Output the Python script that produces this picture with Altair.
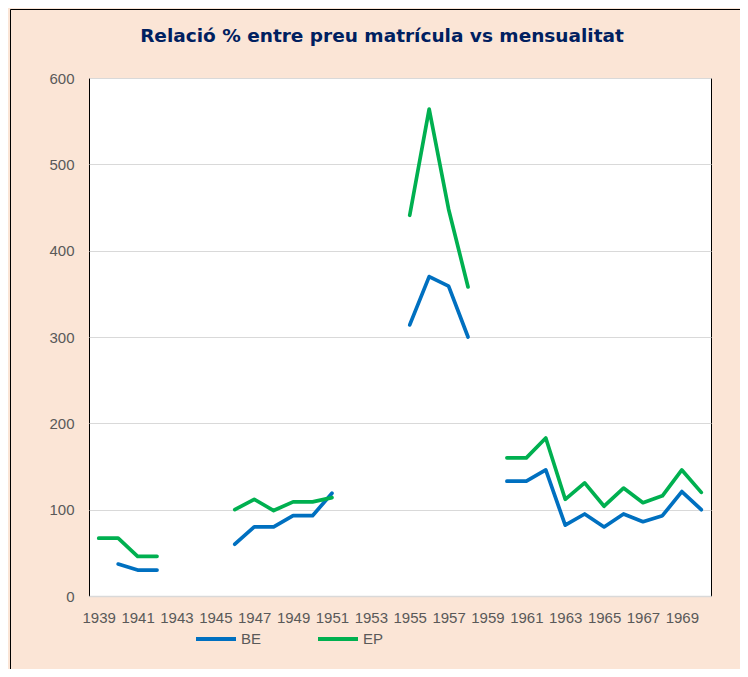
import altair as alt
import pandas as pd

# ---- data ----
years = list(range(1939, 1971))
be_values = [None, 37, 30, 30, None, None, None, 60, 80, 80, 93, 93, 119, None, None, None,
             314, 370, 359, 300, None, 133, 133, 146, 82, 95, 80, 95, 86, 93, 121, 100]
ep_values = [67, 67, 46, 46, None, None, None, 100, 112, 99, 109, 109, 114, None, None, None,
             441, 564, 448, 358, None, 160, 160, 183, 112, 131, 104, 125, 108, 116, 146, 120]
series_names = ["BE", "EP"]
series_colors = ["#0070C0", "#00B050"]
x_tick_years = [y for y in years if y % 2 == 1]
y_ticks = [0, 100, 200, 300, 400, 500, 600]
title_text = "Relació % entre preu matrícula vs mensualitat"

# ---- build long table, one segment per unbroken run ----
rows = []
for name, vals in zip(series_names, [be_values, ep_values]):
    seg = 0
    prev_none = True
    for yr, v in zip(years, vals):
        if v is None:
            prev_none = True
            continue
        if prev_none:
            seg += 1
            prev_none = False
        rows.append({"year": yr, "value": v, "series": name, "seg": f"{name}-{seg}"})
df = pd.DataFrame(rows)

axis_font = "Liberation Sans"
label_color = "#595959"
grid_color = "#D9D9D9"
bg = "#FBE5D6"

lines = alt.Chart(df).mark_line(strokeWidth=3.7, strokeCap="round", strokeJoin="round").encode(
    x=alt.X("year:O", scale=alt.Scale(domain=years),
            axis=alt.Axis(values=x_tick_years, labelAngle=0, ticks=False, tickSize=0,
                          labelPadding=14, labelFont=axis_font, labelFontSize=15,
                          labelColor=label_color, domainColor=grid_color, domainWidth=1.5,
                          grid=False, labelOverlap=False, title=None)),
    y=alt.Y("value:Q", scale=alt.Scale(domain=[0, 600], nice=False),
            axis=alt.Axis(values=y_ticks, ticks=False, tickSize=0, domain=False,
                          labelPadding=15, labelFont=axis_font, labelFontSize=15,
                          labelColor=label_color, gridColor=grid_color, gridWidth=1,
                          title=None)),
    color=alt.Color("series:N", scale=alt.Scale(domain=series_names, range=series_colors),
                    legend=alt.Legend(orient="none", legendX=105, legendY=539,
                                      direction="horizontal", title=None,
                                      symbolType="stroke", symbolSize=1600,
                                      symbolStrokeWidth=4, labelFont=axis_font,
                                      labelFontSize=15, labelColor=label_color,
                                      labelOffset=3, columnPadding=48, padding=0)),
    detail="seg:N",
)

frame_df = pd.DataFrame({"k": [0]})
left_border = alt.Chart(frame_df).mark_rule(color="black", strokeWidth=1).encode(
    x=alt.value(-78.5), y=alt.value(-68.5), y2=alt.value(600))
top_border = alt.Chart(frame_df).mark_rule(color="black", strokeWidth=1).encode(
    x=alt.value(-78.5), x2=alt.value(660), y=alt.value(-68.5))

chart = alt.layer(lines, left_border, top_border).properties(
    width=622, height=518,
    padding={"left": 81, "top": 70, "right": 29, "bottom": 73},
    autosize=alt.AutoSizeParams(type="none"),
    background=bg,
    title=alt.TitleParams(title_text, font="DejaVu Sans", fontSize=18.5, fontWeight="bold",
                          color="#002060", anchor="middle", dx=-18, offset=-51,
                          baseline="alphabetic"),
).configure_view(fill="white", stroke="black", strokeWidth=1)

chart.save("out.html", embed_options={"renderer": "svg", "actions": False})
